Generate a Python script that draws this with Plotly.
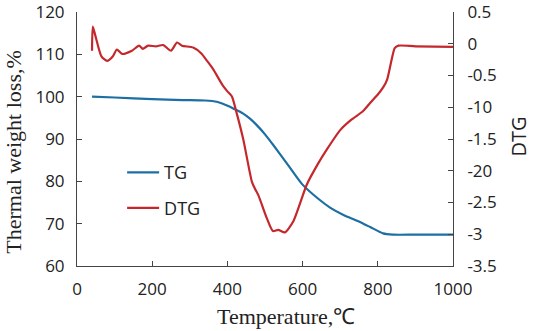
import plotly.graph_objects as go

# TG curve (temperature °C, weight %)
tg_temp = [40, 100, 200, 282, 340, 372, 407, 420, 440, 460, 480, 500, 521, 560, 598, 640, 673, 710, 745, 780, 814, 840, 900, 1000]
tg_val = [100.0, 99.8, 99.4, 99.2, 99.1, 98.8, 97.6, 97.0, 96.1, 94.8, 93.1, 91.1, 88.7, 84.0, 79.4, 76.0, 73.8, 72.0, 70.7, 69.2, 67.7, 67.4, 67.4, 67.4]

# DTG curve
dtg_temp = [40, 42, 50, 65, 80, 95, 106, 120, 146, 165, 175, 189, 210, 229, 250, 266, 279, 309, 330, 346, 362, 388, 400, 412, 425, 442, 465, 473, 482, 505, 521, 535, 553, 575, 611, 640, 665, 700, 729, 761, 780, 800, 815, 825, 835, 845, 855, 900, 1000]
dtg_val = [-0.11, 0.27, 0.1, -0.2, -0.27, -0.2, -0.09, -0.16, -0.11, -0.03, -0.08, -0.03, -0.04, -0.02, -0.11, 0.02, -0.03, -0.06, -0.15, -0.27, -0.4, -0.66, -0.75, -0.83, -1.1, -1.5, -2.17, -2.28, -2.38, -2.75, -2.95, -2.93, -2.97, -2.8, -2.22, -1.9, -1.66, -1.36, -1.2, -1.06, -0.93, -0.8, -0.68, -0.56, -0.3, -0.07, -0.03, -0.04, -0.05]

x_ticks = [0, 200, 400, 600, 800, 1000]
y_ticks = [60, 70, 80, 90, 100, 110, 120]
y2_ticks = [0.5, 0, -0.5, -1, -1.5, -2, -2.5, -3, -3.5]
y2_labels = ["0.5", "0", "-0.5", "-10", "-1.5", "-20", "-2.5", "-3", "-3.5"]

x_title = "Temperature,℃"
y_title = "Thermal weight loss,%"
y2_title = "DTG"

blue = "#1c6ea4"
red = "#c4282c"
sans = "Open Sans, Noto Sans, sans-serif"
serif = "Liberation Serif, Times New Roman, serif"

fig = go.Figure()
fig.add_trace(go.Scatter(x=tg_temp, y=tg_val, mode="lines", name="TG", legendgroup="tg",
                         line=dict(color=blue, width=2.2, shape="spline", smoothing=0.6)))
fig.add_trace(go.Scatter(x=dtg_temp, y=dtg_val, mode="lines", name="DTG", yaxis="y2", legendgroup="dtg",
                         line=dict(color=red, width=2.2, shape="spline", smoothing=0.6)))

axis_common = dict(showline=True, linecolor="#444", linewidth=1, ticks="inside",
                   ticklen=5, tickcolor="#444", showgrid=False, zeroline=False,
                   ticklabeloverflow="allow", automargin=False,
                   tickfont=dict(family=sans, size=17, color="#222"))

fig.update_layout(
    width=533, height=331,
    margin=dict(l=77, r=80, t=12, b=65),
    paper_bgcolor="white", plot_bgcolor="white",
    showlegend=True,
    legend=dict(x=0.12, y=0.44, xanchor="left", yanchor="top",
                font=dict(family=sans, size=18, color="#222"),
                bgcolor="rgba(0,0,0,0)", tracegroupgap=9, itemwidth=32),
    xaxis=dict(range=[0, 1000], tickvals=x_ticks, ticklabelstandoff=8, **axis_common),
    yaxis=dict(range=[60, 120], tickvals=y_ticks, ticklabelstandoff=8, **axis_common),
    yaxis2=dict(range=[-3.5, 0.5], tickvals=y2_ticks, ticktext=y2_labels, overlaying="y", side="right",
                ticklabelstandoff=10, **axis_common),
    annotations=[
        dict(text=x_title, xref="paper", yref="paper", x=0.556, y=-0.2, xanchor="center", yanchor="middle",
             showarrow=False, font=dict(family=serif, size=22, color="#222")),
        dict(text=y_title, xref="paper", yref="paper", x=-0.1676, y=0.45, xanchor="center", yanchor="middle",
             textangle=-90, showarrow=False, font=dict(family=serif, size=22, color="#222")),
        dict(text=y2_title, xref="paper", yref="paper", x=1.173, y=0.51, xanchor="center", yanchor="middle",
             textangle=-90, showarrow=False, font=dict(family=sans, size=20, color="#222")),
    ],
)

# remove the page's default 8px body margin so the figure sits at the window's corner
fig.write_html("out.html", config={"displayModeBar": False},
               post_script="document.body.style.margin='0px';")
